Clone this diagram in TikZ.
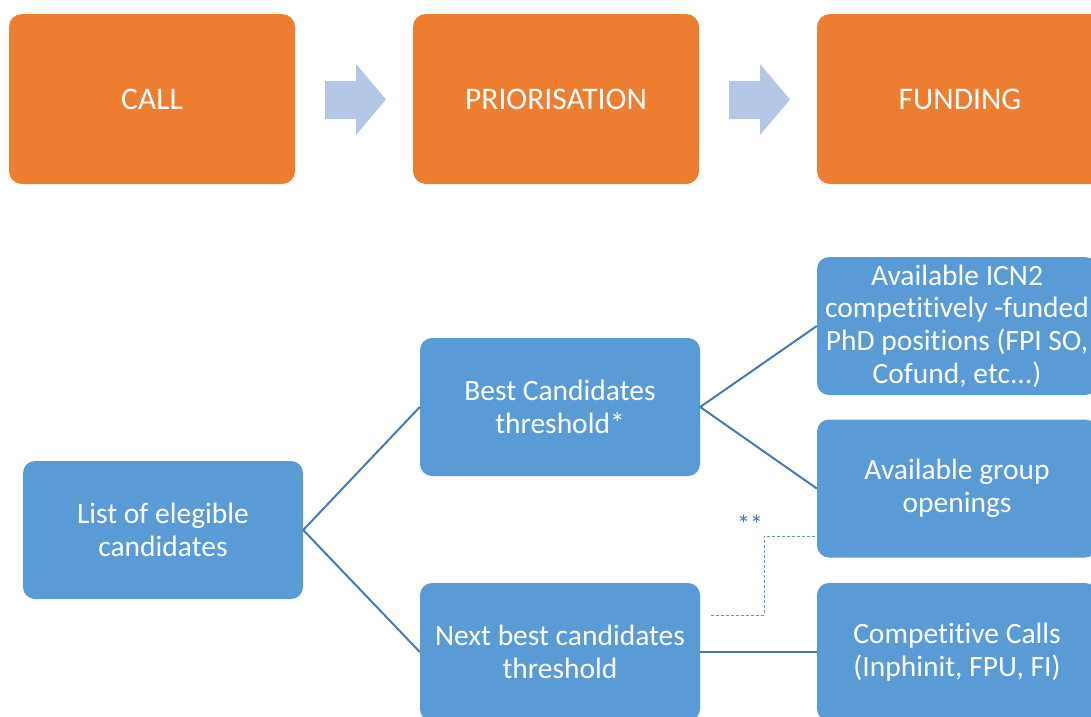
\documentclass[tikz,border=0pt]{standalone}
\usepackage{fontspec}
\setmainfont{Carlito}[Ligatures=NoCommon]
\definecolor{orangebox}{RGB}{237,125,49}
\definecolor{bluebox}{RGB}{91,155,213}
\definecolor{arrowfill}{RGB}{180,199,231}
\definecolor{linkcol}{RGB}{72,122,176}
\definecolor{starcol}{RGB}{68,114,196}
\tikzset{
  stagebox/.style={rectangle, rounded corners=13pt, fill=orangebox, text=white,
    minimum width=286pt, minimum height=170pt, inner sep=0pt,
    font=\fontsize{31.5}{36}\selectfont, align=center},
  treebox/.style={rectangle, rounded corners=12pt, fill=bluebox, text=white,
    minimum width=280pt, minimum height=138pt, inner sep=0pt,
    font=\fontsize{29.5}{32.6}\selectfont, align=center},
  link/.style={draw=linkcol, line width=2pt},
  dashlink/.style={draw=bluebox, line width=1pt, dashed, dash pattern=on 3pt off 2pt},
  flowarrow/.style={fill=arrowfill}
}
\begin{document}
\begin{tikzpicture}[x=1pt,y=-1pt]
\useasboundingbox (0,0) rectangle (1091,716);
\clip (0,0) rectangle (1091,716);
% top row
\node[stagebox] (call) at (152,99) {CALL};
\node[stagebox] (prio) at (556,99) {PRIORISATION};
\node[stagebox] (fund) at (960,99) {FUNDING};
\fill[flowarrow] (325,81) -- (356,81) -- (356,64) -- (386,99.5) -- (356,135) -- (356,119) -- (325,119) -- cycle;
\fill[flowarrow] (729,81) -- (760,81) -- (760,64) -- (790,99.5) -- (760,135) -- (760,119) -- (729,119) -- cycle;
% tree
\node[treebox] (list) at (163,530) {List of elegible\\candidates};
\node[treebox] (best) at (560,407) {Best Candidates\\threshold*};
\node[treebox] (next) at (560,652) {Next best candidates\\threshold};
\node[treebox] (icn) at (957,326) {Available ICN2\\competitively -funded\\PhD positions (FPI SO,\\Cofund, etc...)};
\node[treebox] (group) at (957,488.5) {Available group\\openings};
\node[treebox] (comp) at (957,652) {Competitive Calls\\(Inphinit, FPU, FI)};
\draw[link] (list.east) -- (best.west);
\draw[link] (list.east) -- (next.west);
\draw[link] (best.east) -- (icn.west);
\draw[link] (best.east) -- (group.west);
\draw[link] (next.east) -- (comp.west);
\coordinate (dstart) at (711,615);
\coordinate (dturn) at (764,536);
\draw[dashlink] (dstart) -| (dturn) -- (dturn -| group.west);
\node[text=starcol, font=\fontsize{26}{26}\selectfont, inner sep=0pt] (stars) at (750,524) {**};
\end{tikzpicture}
\end{document}
